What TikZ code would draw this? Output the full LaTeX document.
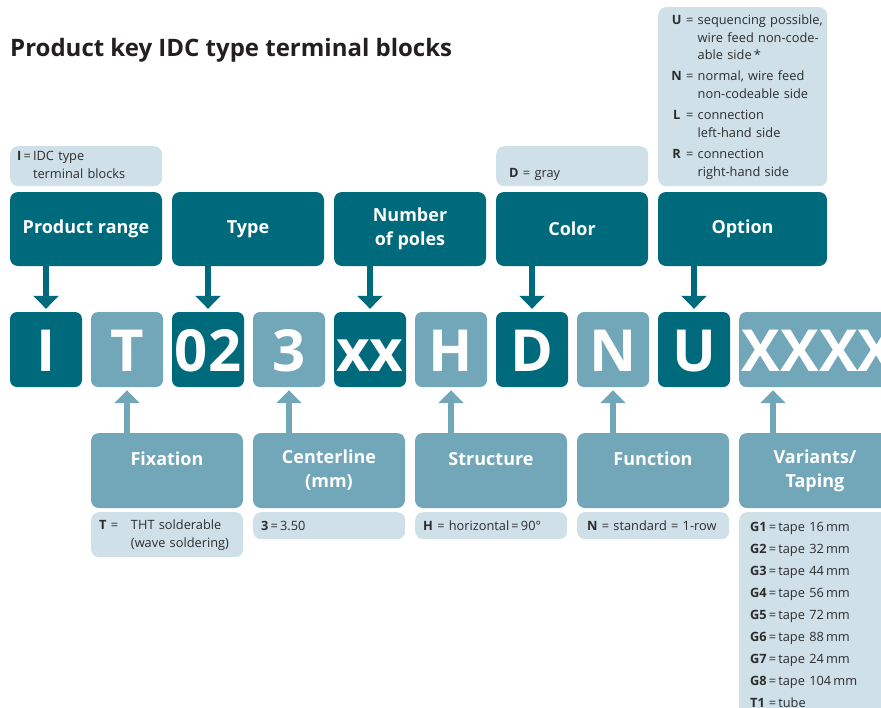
\documentclass[tikz,border=0pt]{standalone}
\usepackage{fontspec}
\setmainfont{Open Sans}
\usetikzlibrary{arrows.meta,positioning}
\definecolor{keydark}{RGB}{0,106,125}
\definecolor{keylight}{RGB}{114,167,186}
\definecolor{keypale}{RGB}{207,224,232}
\definecolor{keytext}{RGB}{45,45,45}
\definecolor{keytitle}{RGB}{35,31,32}
\tikzset{
  keybox/.style={rounded corners=7pt,fill=#1,text=white,minimum width=72pt,minimum height=75pt,inner sep=0pt,text height=44pt,text depth=0pt,font=\bfseries\fontsize{58}{58}\selectfont},
  hdrbox/.style={rounded corners=8pt,fill=#1,text=white,minimum width=152pt,minimum height=74pt,inner sep=0pt,align=center,font=\bfseries\fontsize{18}{24}\selectfont},
  legbox/.style={rounded corners=8pt,fill=keypale,text=keytext,inner xsep=8pt,inner ysep=0pt,text width=#1,align=left,font=\fontsize{12.8}{17.6}\selectfont},
}

\begin{document}
\begin{tikzpicture}[x=1pt,y=-1pt,
    downarr/.style={-{Triangle[width=25pt,length=13pt]},line width=6pt,keydark,shorten >=3pt},
    uparr/.style={-{Triangle[width=25pt,length=13pt]},line width=6pt,keylight,shorten >=3pt},
  ]
  \clip (0,0) rectangle (881,707);

  \node[anchor=base west,inner sep=0pt,text=keytitle,font=\bfseries\fontsize{24}{28}\selectfont] (title) at (10,56.5)
    {Product key IDC type terminal blocks};

  % legends above
  \node[legbox=138pt,inner xsep=7pt,minimum height=40pt,anchor=north west] (legI) at (10,146)
    {\begin{tabular}{@{}l@{\,}l@{\,}l@{}}\textbf{I} & = & IDC type\\ & & terminal blocks\end{tabular}};
  \node[legbox=126pt,inner xsep=13pt,minimum height=40pt,anchor=north west] (legD) at (496,146)
    {\mbox{}\\[8pt]\textbf{D} = gray};
  \node[legbox=151pt,inner xsep=9pt,minimum height=179pt,anchor=north west] (legOption) at (658,7)
    {\begin{tabular}{@{\ }c@{\ }l@{\ }l@{}}
      \textbf{U} & = & sequencing possible,\\
                 &   & wire feed non-code-\\
                 &   & able side\,*\\[3.6pt]
      \textbf{N} & = & normal, wire feed\\
                 &   & non-codeable side\\[3.6pt]
      \textbf{L} & = & connection\\
                 &   & left-hand side\\[3.6pt]
      \textbf{R} & = & connection\\
                 &   & right-hand side
    \end{tabular}};

  % upper headers
  \node[hdrbox=keydark] (hdrRange) at (86,229) {Product range};
  \node[hdrbox=keydark] (hdrType) at (248,229) {Type};
  \node[hdrbox=keydark] (hdrPoles) at (410,229) {Number\\of poles};
  \node[hdrbox=keydark] (hdrColor) at (572,229) {Color};
  \node[hdrbox=keydark,minimum width=169pt] (hdrOption) at (742.5,229) {Option};

  % key letters
  \node[keybox=keydark] (keyI) at (46,349.5) {I};
  \node[keybox=keylight] (keyT) at (127,349.5) {T};
  \node[keybox=keydark] (key02) at (208,349.5) {02};
  \node[keybox=keylight] (key3) at (289,349.5) {3};
  \node[keybox=keydark] (keyxx) at (370,349.5) {xx};
  \node[keybox=keylight] (keyH) at (451,349.5) {H};
  \node[keybox=keydark] (keyD) at (532,349.5) {D};
  \node[keybox=keylight] (keyN) at (613,349.5) {N};
  \node[keybox=keydark] (keyU) at (694,349.5) {U};
  \node[keybox=keylight,minimum width=160pt,anchor=west] (keyX) at (739,349.5) {XXXX};

  \draw[downarr] (keyI |- hdrRange.south) -- (keyI.north);
  \draw[downarr] (key02 |- hdrType.south) -- (key02.north);
  \draw[downarr] (keyxx |- hdrPoles.south) -- (keyxx.north);
  \draw[downarr] (keyD |- hdrColor.south) -- (keyD.north);
  \draw[downarr] (keyU |- hdrOption.south) -- (keyU.north);

  % lower headers
  \node[hdrbox=keylight,minimum height=75pt] (hdrFix) at (167,470.5) {Fixation\\\mbox{}};
  \node[hdrbox=keylight,minimum height=75pt] (hdrCenter) at (329,470.5) {Centerline\\(mm)};
  \node[hdrbox=keylight,minimum height=75pt] (hdrStruct) at (491,470.5) {Structure\\\mbox{}};
  \node[hdrbox=keylight,minimum height=75pt] (hdrFunc) at (653,470.5) {Function\\\mbox{}};
  \node[hdrbox=keylight,minimum height=75pt] (hdrVar) at (815,470.5) {Variants/\\Taping};

  \draw[uparr] (keyT |- hdrFix.north) -- (keyT.south);
  \draw[uparr] (key3 |- hdrCenter.north) -- (key3.south);
  \draw[uparr] (keyH |- hdrStruct.north) -- (keyH.south);
  \draw[uparr] (keyN |- hdrFunc.north) -- (keyN.south);
  \draw[uparr] ([xshift=34pt]keyX.south west |- hdrVar.north) -- ([xshift=34pt]keyX.south west);

  % legends below
  \node[legbox=136pt,minimum height=45pt,anchor=north west] (legFix) at (91,512)
    {\begin{tabular}{@{}l@{\ }l@{\ \ \ }l@{}}\textbf{T} & = & THT solderable\\ & & (wave soldering)\end{tabular}};
  \node[legbox=136pt,minimum height=27pt,anchor=north west] (legCenter) at (253,512)
    {\textbf{3}\,=\,3.50};
  \node[legbox=136pt,minimum height=27pt,anchor=north west] (legStruct) at (415,512)
    {\textbf{H} = horizontal\,=\,90°};
  \node[legbox=132pt,inner xsep=10pt,minimum height=27pt,anchor=north west] (legFunc) at (577,512)
    {\textbf{N} = standard = 1-row};
  \node[legbox=130pt,inner xsep=11pt,inner ysep=7pt,anchor=north west] (legVar) at (739,512)
    {\begin{tabular}{@{}l@{\,}l@{\,}l@{}}
      \textbf{G1} & = & tape 16\,mm\\[4.4pt]
      \textbf{G2} & = & tape 32\,mm\\[4.4pt]
      \textbf{G3} & = & tape 44\,mm\\[4.4pt]
      \textbf{G4} & = & tape 56\,mm\\[4.4pt]
      \textbf{G5} & = & tape 72\,mm\\[4.4pt]
      \textbf{G6} & = & tape 88\,mm\\[4.4pt]
      \textbf{G7} & = & tape 24\,mm\\[4.4pt]
      \textbf{G8} & = & tape 104\,mm\\[4.4pt]
      \textbf{T1} & = & tube
    \end{tabular}};
\end{tikzpicture}
\end{document}
